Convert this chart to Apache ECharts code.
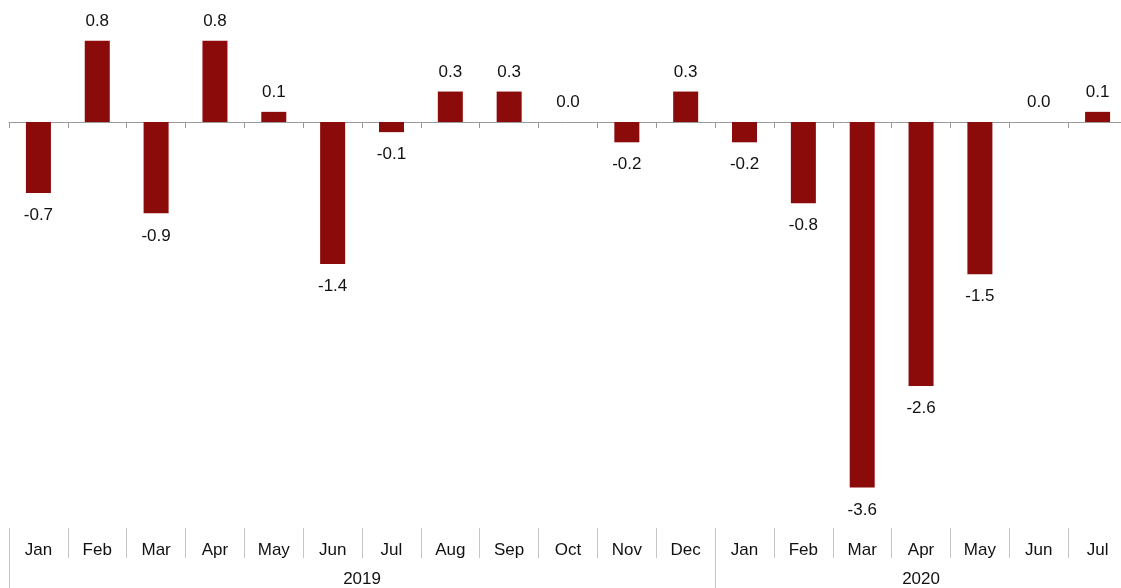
<!DOCTYPE html>
<html>
<head>
<meta charset="utf-8">
<script src="https://cdn.jsdelivr.net/npm/echarts@6/dist/echarts.min.js"></script>
<style>
    html, body { margin: 0; padding: 0; background: #fff; }
    #main { width: 1121px; height: 588px; }
</style>
</head>
<body>
<div id="main"></div>
<script>
    // 月份 / 数值
    var months = ['Jan', 'Feb', 'Mar', 'Apr', 'May', 'Jun', 'Jul', 'Aug', 'Sep', 'Oct', 'Nov', 'Dec',
        'Jan', 'Feb', 'Mar', 'Apr', 'May', 'Jun', 'Jul'];
    var values = [-0.7, 0.8, -0.9, 0.8, 0.1, -1.4, -0.1, 0.3, 0.3, 0.0, -0.2, 0.3,
        -0.2, -0.8, -3.6, -2.6, -1.5, 0.0, 0.1];
    var years = ['2019', '2020'];
    var yearStarts = [0, 12];   // index of first month of each year
    var yearEnds = [12, 19];

    var font = 'Liberation Sans, Arial, sans-serif';
    var barColor = '#8B0A0A';

    var chart = echarts.init(document.getElementById('main'));

    var barData = [];
    for (var i = 0; i < values.length; i++) {
        var neg = values[i] < 0;
        barData.push({
            value: values[i],
            label: { position: neg ? 'bottom' : 'top', distance: neg ? 14 : 11 }
        });
    }

    // year label positions on a 0..19 value axis
    var yearAt = {};
    for (var k = 0; k < years.length; k++) {
        yearAt[(yearStarts[k] + yearEnds[k]) / 2] = years[k];
    }

    var option = {
        animation: false,
        grid: [
            { left: 9, width: 1118, top: 20.5, height: 507.5, outerBoundsMode: 'none' },
            { left: 9, width: 1118, top: 528, height: 30, outerBoundsMode: 'none' },
            { left: 9, width: 1118, top: 558, height: 30, outerBoundsMode: 'none' }
        ],
        xAxis: [
            {
                type: 'category', gridIndex: 0, data: months,
                axisLine: { onZero: true, lineStyle: { color: '#9a9a9a', width: 1 } },
                axisTick: { show: true, length: 6, lineStyle: { color: '#9a9a9a' } },
                axisLabel: { show: false }
            },
            {
                type: 'category', gridIndex: 1, data: months,
                axisLine: { show: false },
                axisTick: { show: false },
                splitLine: { show: true, lineStyle: { color: '#c4c4c4', width: 1 } },
                axisLabel: {
                    inside: true, margin: -1, interval: 0,
                    fontFamily: font, fontSize: 17, color: '#111'
                }
            },
            {
                type: 'category', gridIndex: 2, data: months,
                axisLine: { show: false },
                axisTick: { show: false },
                axisLabel: { show: false },
                splitLine: {
                    show: true,
                    interval: function (idx) { return yearStarts.indexOf(idx) >= 0; },
                    lineStyle: { color: '#c4c4c4', width: 1 }
                }
            },
            {
                type: 'value', gridIndex: 2, min: 0, max: months.length, interval: 0.5,
                axisLine: { show: false },
                axisTick: { show: false },
                splitLine: { show: false },
                axisLabel: {
                    inside: true, margin: 13,
                    fontFamily: font, fontSize: 17, color: '#111',
                    formatter: function (v) { return yearAt[v] || ''; }
                }
            }
        ],
        yAxis: [
            { type: 'value', gridIndex: 0, min: -4, max: 1, show: false },
            { type: 'value', gridIndex: 1, show: false },
            { type: 'value', gridIndex: 2, show: false }
        ],
        series: [
            {
                type: 'bar',
                xAxisIndex: 0, yAxisIndex: 0,
                data: barData,
                barWidth: 25,
                itemStyle: { color: barColor },
                label: {
                    show: true,
                    fontFamily: font, fontSize: 17, color: '#111',
                    formatter: function (p) { return p.value.toFixed(1); }
                }
            }
        ]
    };
    chart.setOption(option);
</script>
</body>
</html>
